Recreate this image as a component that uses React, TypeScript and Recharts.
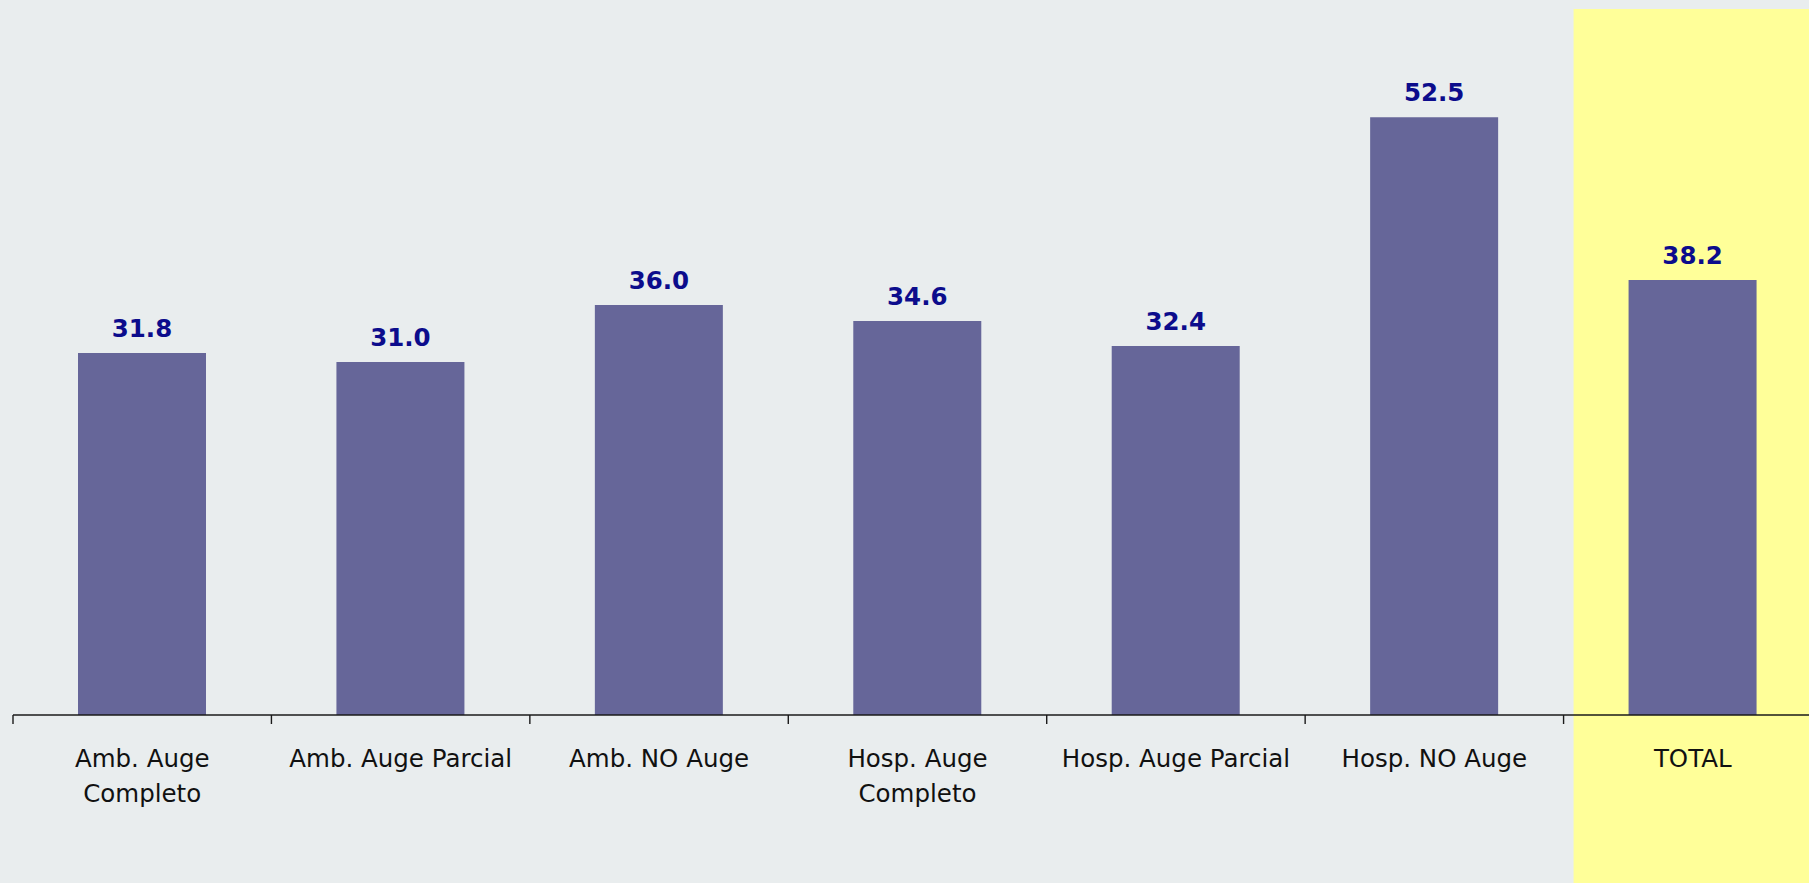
import React from 'react';
import {
  BarChart,
  Bar,
  XAxis,
  YAxis,
  LabelList,
  ReferenceArea,
} from 'recharts';

// categories (line breaks are as in the source picture)
const categories = [
  'Amb. Auge\nCompleto',
  'Amb. Auge Parcial',
  'Amb. NO Auge',
  'Hosp. Auge\nCompleto',
  'Hosp. Auge Parcial',
  'Hosp. NO Auge',
  'TOTAL',
];
const values = [31.8, 31.0, 36.0, 34.6, 32.4, 52.5, 38.2];
const highlighted = 'TOTAL';

const data = categories.map((name, i) => ({ name, value: values[i] }));

const CHART_W = 1822;
const CHART_H = 883;
const MARGIN_LEFT = 13;
const BAND = (CHART_W - MARGIN_LEFT) / categories.length;

const CategoryTick = (props: any) => {
  const { x, y, payload } = props;
  const lines = String(payload.value).split('\n');
  const left = x - BAND / 2;
  return (
    <g>
      <line x1={left} x2={left} y1={y} y2={y + 9} stroke="#1a1a1a" strokeWidth={1.4} />
      <text
        x={x}
        y={y + 52}
        textAnchor="middle"
        fill="#111"
        fontFamily="'DejaVu Sans', sans-serif"
        fontSize={24.5}
      >
        {lines.map((line, i) => (
          <tspan key={i} x={x} dy={i === 0 ? 0 : 34.5}>
            {line}
          </tspan>
        ))}
      </text>
    </g>
  );
};

const HighlightShape = (props: any) => {
  const { x, y, height } = props;
  return <rect x={x + 10} y={y} width={400} height={height} fill="#ffff99" />;
};

export default function App() {
  return (
    <div
      style={{
        position: 'fixed',
        left: 0,
        top: 0,
        width: 1809,
        height: 883,
        overflow: 'hidden',
        background: '#e9edee',
      }}
    >
      <BarChart
        width={CHART_W}
        height={CHART_H}
        data={data}
        margin={{ top: 9, right: 0, bottom: 0, left: MARGIN_LEFT }}
        barSize={128}
      >
        <ReferenceArea
          x1={highlighted}
          x2={highlighted}
          y1={-20}
          y2={62}
          ifOverflow="visible"
          shape={HighlightShape}
        />
        <XAxis
          dataKey="name"
          height={168}
          interval={0}
          tickLine={false}
          tickSize={0}
          tickMargin={0}
          axisLine={{ stroke: '#1a1a1a', strokeWidth: 1.4 }}
          tick={<CategoryTick />}
        />
        <YAxis hide domain={[0, 62]} />
        <Bar dataKey="value" fill="#666699" isAnimationActive={false}>
          <LabelList
            dataKey="value"
            position="top"
            offset={16}
            formatter={(v: any) => Number(v).toFixed(1)}
            fill="#0c0c8c"
            fontFamily="'DejaVu Sans', sans-serif"
            fontWeight="bold"
            fontSize={24.5}
          />
        </Bar>
      </BarChart>
    </div>
  );
}
